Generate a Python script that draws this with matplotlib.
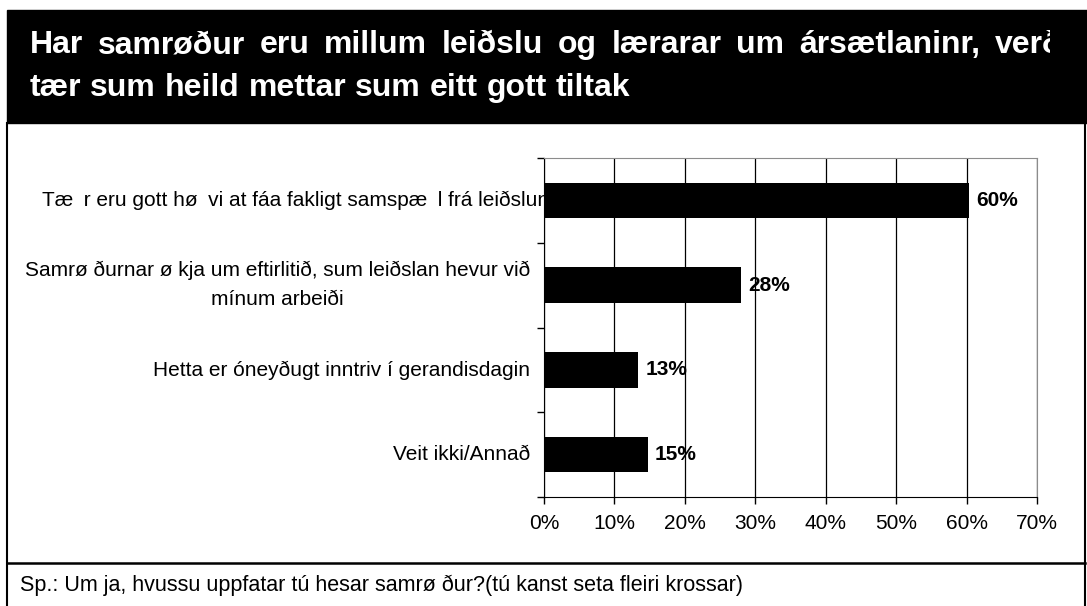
import matplotlib
matplotlib.use("Agg")

import matplotlib.pyplot as plt
from matplotlib.patches import Rectangle
from matplotlib.lines import Line2D
from matplotlib.transforms import Bbox, TransformedBbox, blended_transform_factory, ScaledTranslation

plt.rcParams['font.family'] = ['Liberation Sans', 'DejaVu Sans']

# data
categories = [
    "Tæ\u2002r eru gott hø\u2002vi at fáa fakligt samspæ\u2002l frá leiðsluni",
    "Samrø ðurnar ø kja um eftirlitið, sum leiðslan hevur við\nmínum arbeiði",
    "Hetta er óneyðugt inntriv í gerandisdagin",
    "Veit ikki/Annað",
]
values = [60.4, 28.0, 13.4, 14.7]
xticks = [0, 10, 20, 30, 40, 50, 60, 70]
title_lines = [
    "Har samrøður eru millum leiðslu og lærarar um ársætlaninr, verð",
    "tær sum heild mettar sum eitt gott tiltak",
]
footer = "Sp.: Um ja, hvussu uppfatar tú hesar samrø ður?(tú kanst seta fleiri krossar)"

W, H = 1087, 606
fig = plt.figure(figsize=(W / 100, H / 100), dpi=100)


def fx(x):
    return x / W


def fy(y):
    return 1 - y / H


# black title band and frame lines
fig.patches.append(Rectangle((fx(7), fy(123)), fx(W - 7), 113 / H,
                             transform=fig.transFigure, color="black", zorder=0))
for xs, ys, lw in [([7, 7], [123, 606], 1.5), ([1085, 1085], [123, 606], 1.5),
                   ([7, 1085], [563, 563], 1.8)]:
    fig.add_artist(Line2D([fx(v) for v in xs], [fy(v) for v in ys],
                          transform=fig.transFigure, color="black", lw=lw))

# title, justified across the band and cut off at the right like the original
renderer = fig.canvas.get_renderer()
title_clip = TransformedBbox(Bbox([[0, 0], [fx(1050), 1]]), fig.transFigure)


def title_line(text, y, x0, x1=None):
    words = text.split(" ")
    arts = [fig.text(0, fy(y), w, color="white", fontsize=23, fontweight="bold",
                     va="center", ha="left") for w in words]
    widths = [a.get_window_extent(renderer).width for a in arts]
    if x1 is None:
        gap = arts[0].get_fontsize() * 100 / 72 * 0.278
    else:
        gap = (x1 - x0 - sum(widths)) / (len(words) - 1)
    x = x0
    for a, w in zip(arts, widths):
        a.set_x(fx(x))
        a.set_clip_box(title_clip)
        a.set_clip_on(True)
        x += w + gap


title_line(title_lines[0], 45, 30, 1062)
title_line(title_lines[1], 88, 30)

# bar chart
ax = fig.add_axes([fx(544), fy(497), fx(493), 339 / H])
ypos = list(range(len(categories)))
ax.barh(ypos, values, height=0.42, color="black", zorder=3)
ax.set_xlim(0, 70)
ax.set_ylim(3.5, -0.5)
ax.set_xticks(xticks)
ax.set_xticklabels([f"{t}%" for t in xticks], fontsize=15)
ax.set_yticks([-0.5, 0.5, 1.5, 2.5, 3.5])
ax.set_yticklabels([])
ax.tick_params(direction="out", length=5, width=1, color="black")
ax.tick_params(axis="x", pad=7)
ax.grid(axis="x", color="black", lw=0.9)
ax.set_axisbelow(True)
for side in ["top", "right"]:
    ax.spines[side].set_color("#8c8c8c")
for side in ["left", "bottom"]:
    ax.spines[side].set_color("black")

for i, v in enumerate(values):
    ax.annotate(f"{round(v)}%", (v, i), xytext=(7, 0), textcoords="offset pixels",
                va="center", ha="left", fontsize=15, fontweight="bold")

# category labels, the first one runs under the bar like in the original
trans = blended_transform_factory(ax.transAxes, ax.transData)
label_clip = TransformedBbox(Bbox([[0, 0], [fx(544), 1]]), fig.transFigure)
for i, lab in enumerate(categories):
    dx = 10 if i == 0 else -14
    t = fig.text(0, i, lab, transform=trans + ScaledTranslation(dx / 100, 0, fig.dpi_scale_trans),
                 ha="right", va="center", multialignment="center", fontsize=15,
                 linespacing=1.65)
    if i == 0:
        t.set_clip_box(label_clip)
        t.set_clip_on(True)

fig.text(fx(20), fy(585), footer, fontsize=15.5, va="center", ha="left")

fig.savefig("out.png", dpi=100)
